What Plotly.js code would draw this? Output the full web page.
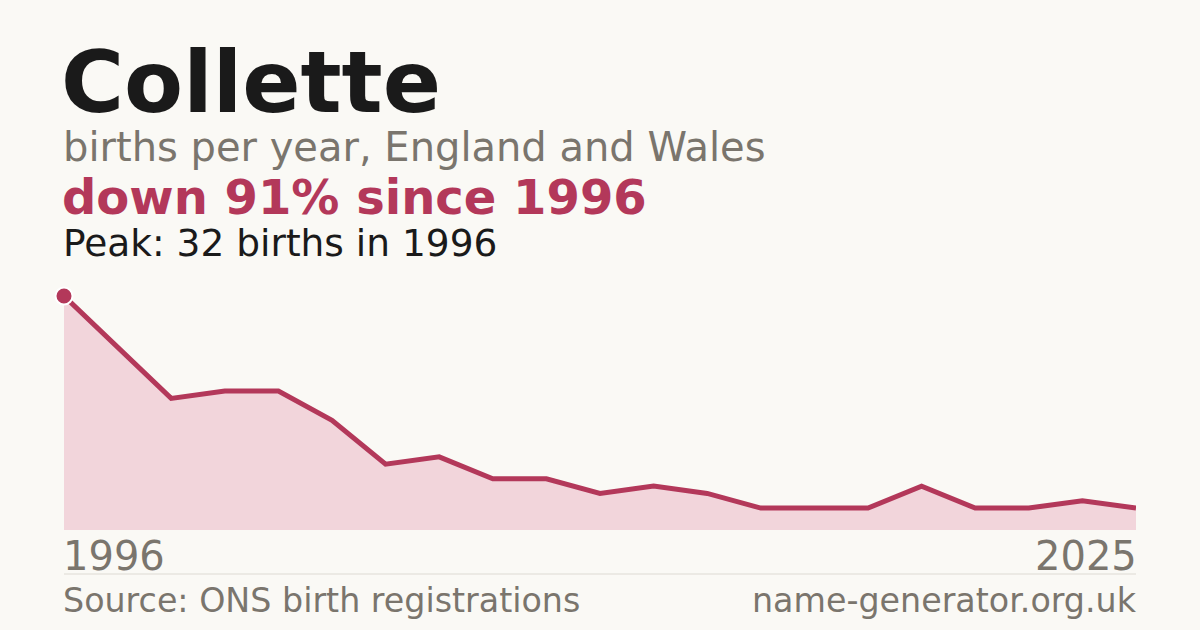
<!DOCTYPE html>
<html><head><meta charset="utf-8">
<script src="https://cdn.plot.ly/plotly-3.0.1.min.js"></script>
<style>html,body{margin:0;padding:0;background:#faf9f5;}#chart{width:1200px;height:630px;}</style>
</head><body><div id="chart"></div>
<script>
// Data (one point per recorded year, shown evenly spaced as in the reference)
const pointIndex = [0,1,2,3,4,5,6,7,8,9,10,11,12,13,14,15,16,17,18,19,20];
const births     = [32,25,18,19,19,15,9,10,7,7,5,6,5,3,3,3,6,3,3,4,3];
const firstYear = "1996";
const lastYear  = "2025";
const nameText = "Collette";
const subtitleText = "births per year, England and Wales";
const changeText = "down 91% since 1996";
const peakText = "Peak: 32 births in 1996";
const sourceText = "Source: ONS birth registrations";
const siteText = "name-generator.org.uk";

const W = 1200, H = 630;
const px = x => x / W;
const py = y => 1 - y / H;
const RED = "#b3385a", GREY = "#7a756d", DARK = "#1a1a1a";
const FONT = "DejaVu Sans";

const traces = [
  {x: pointIndex, y: births, type: "scatter", mode: "lines", fill: "tozeroy",
   fillcolor: "#f2d5db", line: {color: RED, width: 5}, hoverinfo: "skip", cliponaxis: false},
  {x: [pointIndex[0]], y: [births[0]], type: "scatter", mode: "markers",
   marker: {color: RED, size: 17, line: {color: "#ffffff", width: 2}}, cliponaxis: false, hoverinfo: "skip"}
];

function ann(text, x, y, size, color, xanchor, bold) {
  return {text: bold ? "<b>" + text + "</b>" : text, xref: "paper", yref: "paper",
    x: px(x), y: py(y), xanchor: xanchor, yanchor: "middle", showarrow: false, borderpad: 0,
    font: {family: FONT, size: size, color: color}};
}

const layout = {
  width: W, height: H, margin: {l: 0, r: 0, t: 0, b: 0},
  paper_bgcolor: "#faf9f5", plot_bgcolor: "#faf9f5", showlegend: false,
  xaxis: {domain: [px(64), px(1136)], range: [0, 20], visible: false, fixedrange: true},
  yaxis: {domain: [py(530), py(296)], range: [0, 32], visible: false, fixedrange: true},
  shapes: [{type: "line", xref: "paper", yref: "paper", x0: px(64), x1: px(1136), y0: py(574), y1: py(574),
            line: {color: "#dddad3", width: 1}}],
  annotations: [
    ann(nameText, 60, 82, 86, DARK, "left", true),
    ann(subtitleText, 62, 147, 40, GREY, "left", false),
    ann(changeText, 61, 197, 48, RED, "left", true),
    ann(peakText, 62, 243, 37.5, DARK, "left", false),
    ann(firstYear, 62, 556, 40, GREY, "left", false),
    ann(lastYear, 1138, 556, 40, GREY, "right", false),
    ann(sourceText, 62, 600, 33.3, GREY, "left", false),
    ann(siteText, 1138, 600, 33.3, GREY, "right", false)
  ]
};
Plotly.newPlot("chart", traces, layout, {displayModeBar: false, staticPlot: true});
</script></body></html>
